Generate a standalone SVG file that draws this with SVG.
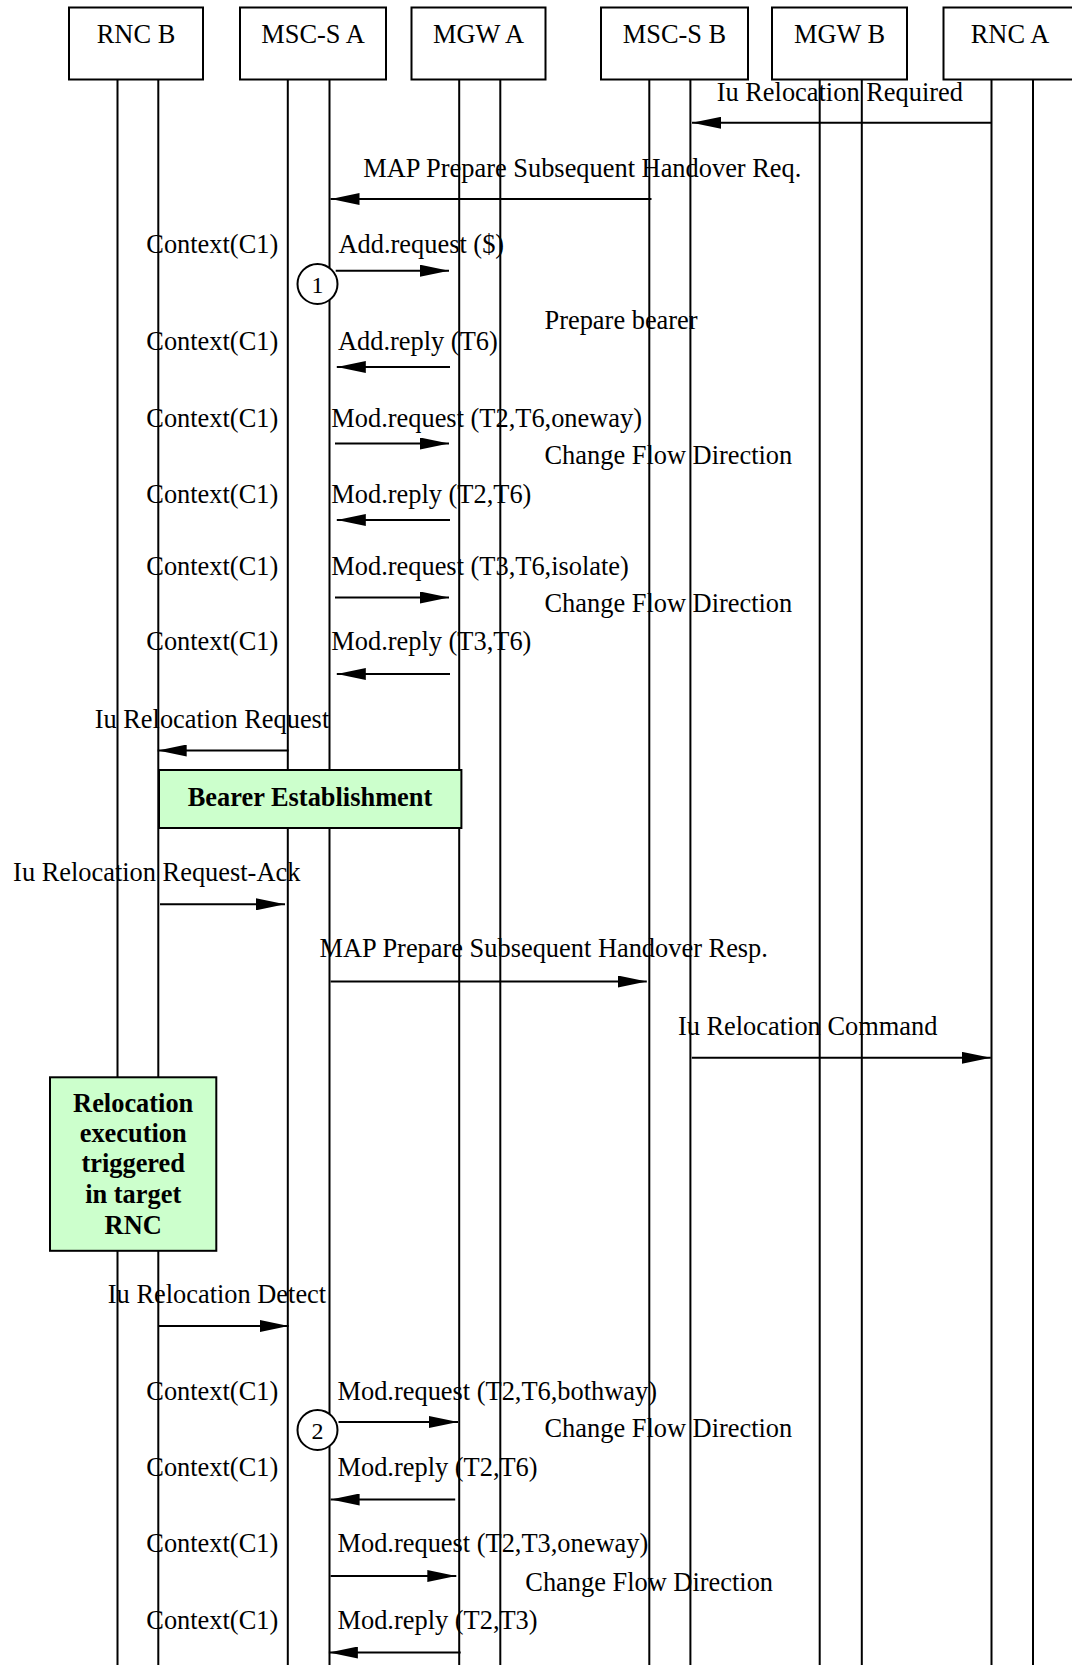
<svg xmlns="http://www.w3.org/2000/svg" width="1072" height="1665" viewBox="0 0 1072 1665">
<style>
text{font-family:"Liberation Serif","Times New Roman",serif;font-size:26.4px;fill:#000}
.c{text-anchor:middle}
.b{font-weight:bold}
.box{fill:#fff;stroke:#000;stroke-width:2}
.note{fill:#ccffcc;stroke:#000;stroke-width:2}
.life{stroke:#000;stroke-width:2;fill:none}
.msg{stroke:#000;stroke-width:2;fill:none;marker-end:url(#ah)}
.circ{fill:#fff;stroke:#000;stroke-width:2}
.num{font-size:24px;text-anchor:middle}
</style>
<defs>
<marker id="ah" viewBox="0 0 29 12" markerWidth="29" markerHeight="12" refX="29" refY="6" markerUnits="userSpaceOnUse" orient="auto">
<path d="M0,0 L29,6 L0,12 z" fill="#000"/>
</marker>
</defs>
<rect width="1072" height="1665" fill="#fff"/>

<g id="lifelines">
<path class="life" d="M117.5,79.6V1665M158.3,79.6V1665"/>
<path class="life" d="M287.8,79.6V1665M329.5,79.6V1665"/>
<path class="life" d="M459.2,79.6V1665M500.3,79.6V1665"/>
<path class="life" d="M649.3,79.6V1665M690.4,79.6V1665"/>
<path class="life" d="M819.7,79.6V1665M861.8,79.6V1665"/>
<path class="life" d="M991.5,79.6V1665M1033,79.6V1665"/>
</g>

<g id="node-rncb"><rect class="box" x="69" y="7.5" width="134" height="72"/><text class="c" x="136" y="43">RNC B</text></g>
<g id="node-mscsa"><rect class="box" x="240" y="7.5" width="146" height="72"/><text class="c" x="313" y="43">MSC-S A</text></g>
<g id="node-mgwa"><rect class="box" x="411.5" y="7.5" width="134" height="72"/><text class="c" x="478.5" y="43">MGW A</text></g>
<g id="node-mscsb"><rect class="box" x="601" y="7.5" width="147" height="72"/><text class="c" x="674.5" y="43">MSC-S B</text></g>
<g id="node-mgwb"><rect class="box" x="772" y="7.5" width="135" height="72"/><text class="c" x="839.5" y="43">MGW B</text></g>
<g id="node-rnca"><rect class="box" x="943.5" y="7.5" width="134" height="72"/><text class="c" x="1010" y="43">RNC A</text></g>

<g id="connectors">
<line class="msg" x1="991.5" y1="122.8" x2="692" y2="122.8"/>
<line class="msg" x1="651.5" y1="199" x2="330.5" y2="199"/>
<line class="msg" x1="335.7" y1="270.7" x2="449" y2="270.7"/>
<line class="msg" x1="450" y1="367" x2="336.8" y2="367"/>
<line class="msg" x1="335" y1="443.5" x2="449" y2="443.5"/>
<line class="msg" x1="450" y1="520" x2="336.8" y2="520"/>
<line class="msg" x1="335" y1="597.5" x2="449" y2="597.5"/>
<line class="msg" x1="450" y1="674" x2="336.8" y2="674"/>
<line class="msg" x1="288.6" y1="750.5" x2="157.7" y2="750.5"/>
<line class="msg" x1="160" y1="904.3" x2="285" y2="904.3"/>
<line class="msg" x1="330.6" y1="981.5" x2="646.8" y2="981.5"/>
<line class="msg" x1="691.8" y1="1057.8" x2="990.8" y2="1057.8"/>
<line class="msg" x1="158.4" y1="1326" x2="288.6" y2="1326"/>
<line class="msg" x1="338.5" y1="1422" x2="458" y2="1422"/>
<line class="msg" x1="455.2" y1="1499.5" x2="330.6" y2="1499.5"/>
<line class="msg" x1="330.6" y1="1576" x2="456.3" y2="1576"/>
<line class="msg" x1="460.7" y1="1652.5" x2="328.9" y2="1652.5"/>
</g>

<g id="note-bearer"><rect class="note" x="159" y="770" width="302.4" height="58"/><text class="c b" x="310" y="806">Bearer Establishment</text></g>
<g id="note-relocation"><rect class="note" x="50" y="1077.3" width="166.3" height="173.5"/>
<text class="c b" x="133.2" y="1111.5">Relocation</text>
<text class="c b" x="133.2" y="1141.7">execution</text>
<text class="c b" x="133.2" y="1172">triggered</text>
<text class="c b" x="133.2" y="1203">in target</text>
<text class="c b" x="133.2" y="1234">RNC</text>
</g>

<g id="marker-1"><circle class="circ" cx="317.5" cy="284" r="20"/><text class="num" x="317.5" y="292.5">1</text></g>
<g id="marker-2"><circle class="circ" cx="317.5" cy="1430" r="20"/><text class="num" x="317.5" y="1438.5">2</text></g>

<g id="labels">
<text x="716.7" y="100.5">Iu Relocation Required</text>
<text x="363.3" y="176.5">MAP Prepare Subsequent Handover Req.</text>
<text x="146.3" y="252.5">Context(C1)</text>
<text x="338.5" y="252.5">Add.request ($)</text>
<text x="544.5" y="329.3">Prepare bearer</text>
<text x="146.3" y="349.5">Context(C1)</text>
<text x="338" y="349.5">Add.reply (T6)</text>
<text x="146.3" y="426.7">Context(C1)</text>
<text x="331.3" y="426.7">Mod.request (T2,T6,oneway)</text>
<text x="544.5" y="463.5">Change Flow Direction</text>
<text x="146.3" y="503.2">Context(C1)</text>
<text x="331.3" y="503.2">Mod.reply (T2,T6)</text>
<text x="146.3" y="574.5">Context(C1)</text>
<text x="331.3" y="574.5">Mod.request (T3,T6,isolate)</text>
<text x="544.5" y="612">Change Flow Direction</text>
<text x="146.3" y="650.3">Context(C1)</text>
<text x="331.3" y="650.3">Mod.reply (T3,T6)</text>
<text x="94.7" y="727.7">Iu Relocation Request</text>
<text x="13.1" y="880.5">Iu Relocation Request-Ack</text>
<text x="319.6" y="956.8">MAP Prepare Subsequent Handover Resp.</text>
<text x="677.9" y="1034.5">Iu Relocation Command</text>
<text x="107.8" y="1303.3">Iu Relocation Detect</text>
<text x="146.3" y="1399.5">Context(C1)</text>
<text x="337.5" y="1399.5">Mod.request (T2,T6,bothway)</text>
<text x="544.5" y="1437">Change Flow Direction</text>
<text x="146.3" y="1476.2">Context(C1)</text>
<text x="337.5" y="1476.2">Mod.reply (T2,T6)</text>
<text x="146.3" y="1552.2">Context(C1)</text>
<text x="337.5" y="1552.2">Mod.request (T2,T3,oneway)</text>
<text x="525.3" y="1590.5">Change Flow Direction</text>
<text x="146.3" y="1628.7">Context(C1)</text>
<text x="337.5" y="1628.7">Mod.reply (T2,T3)</text>
</g>
</svg>
